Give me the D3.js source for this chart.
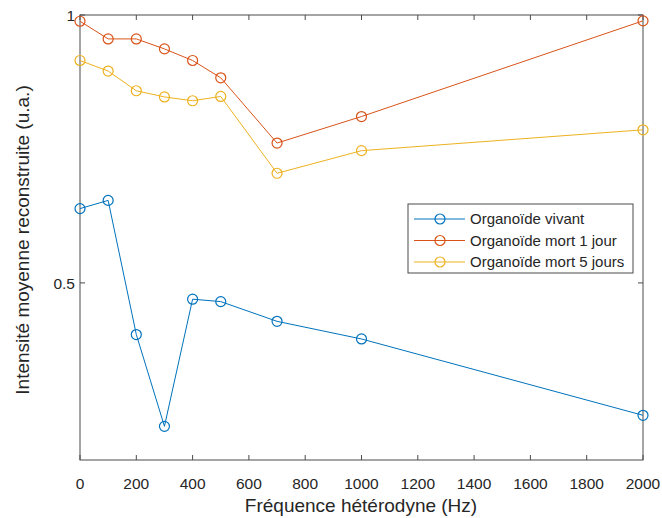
<!DOCTYPE html>
<html><head><meta charset="utf-8">
<script src="https://cdn.jsdelivr.net/npm/d3@7"></script>
<style>body{margin:0;background:#fff}svg{display:block}text{font-family:"Liberation Sans",Arial,Helvetica,sans-serif;fill:#262626}</style>
</head><body><svg id="c" width="662" height="518"></svg>
<script>
const freqs = [0, 100, 200, 300, 400, 500, 700, 1000, 2000];
const vivant = [0.606, 0.619, 0.4375, 0.345, 0.4794, 0.4764, 0.4527, 0.4325, 0.355];
const mort1 = [0.984, 0.940, 0.940, 0.916, 0.889, 0.850, 0.718, 0.769, 0.985];
const mort5 = [0.889, 0.865, 0.822, 0.809, 0.801, 0.810, 0.664, 0.704, 0.743];
const seriesNames = ["Organoïde vivant", "Organoïde mort 1 jour", "Organoïde mort 5 jours"];
const colors = ["#0072BD", "#D95319", "#EDB120"];
const xTicks = [0, 200, 400, 600, 800, 1000, 1200, 1400, 1600, 1800, 2000];
const yTicks = [0.5, 1];
const yTickLabels = ["0.5", "1"];
const xLabel = "Fréquence hétérodyne (Hz)";
const yLabel = "Intensité moyenne reconstruite (u.a.)";

const L = 80, T = 15, R = 643, B = 460;
const svg = d3.select("#c");
const x = d3.scaleLinear().domain([0, 2000]).range([L, R]);
const y = d3.scaleLog().domain([Math.pow(10, -0.5), 1]).range([B, T]);
const axisColor = "#4a4a4a";
const tl = 5;

const g = svg.append("g");
g.append("rect").attr("x", L).attr("y", T).attr("width", R - L).attr("height", B - T)
  .attr("fill", "none").attr("stroke", axisColor).attr("stroke-width", 1);

xTicks.forEach(v => {
  const px = x(v);
  g.append("line").attr("x1", px).attr("x2", px).attr("y1", B).attr("y2", B - tl).attr("stroke", axisColor);
  g.append("line").attr("x1", px).attr("x2", px).attr("y1", T).attr("y2", T + tl).attr("stroke", axisColor);
  g.append("text").attr("x", px).attr("y", B + 29).attr("text-anchor", "middle")
    .style("font-size", "15.5px").text(v);
});
yTicks.forEach((v, i) => {
  const py = y(v);
  g.append("line").attr("x1", L).attr("x2", L + tl).attr("y1", py).attr("y2", py).attr("stroke", axisColor);
  g.append("line").attr("x1", R).attr("x2", R - tl).attr("y1", py).attr("y2", py).attr("stroke", axisColor);
  g.append("text").attr("x", L - 5).attr("y", py + 6).attr("text-anchor", "end")
    .style("font-size", "15.5px").text(yTickLabels[i]);
});

g.append("text").attr("x", 361).attr("y", 512).attr("text-anchor", "middle")
  .style("font-size", "19px").text(xLabel);
g.append("text").attr("transform", `translate(29,240) rotate(-90)`).attr("text-anchor", "middle")
  .style("font-size", "19px").text(yLabel);

const data = [vivant, mort1, mort5];
const line = d3.line().x((d, i) => x(freqs[i])).y(d => y(d));
data.forEach((s, k) => {
  g.append("path").datum(s).attr("d", line).attr("fill", "none")
    .attr("stroke", colors[k]).attr("stroke-width", 1);
  g.selectAll(null).data(s).enter().append("circle")
    .attr("cx", (d, i) => x(freqs[i])).attr("cy", d => y(d)).attr("r", 5)
    .attr("fill", "none").attr("stroke", colors[k]).attr("stroke-width", 1.2);
});

const lg = svg.append("g");
lg.append("rect").attr("x", 408).attr("y", 204).attr("width", 225).attr("height", 69)
  .attr("fill", "#fff").attr("stroke", axisColor).attr("stroke-width", 1);
seriesNames.forEach((n, k) => {
  const ly = 219 + k * 21.5;
  lg.append("line").attr("x1", 414).attr("x2", 465).attr("y1", ly).attr("y2", ly)
    .attr("stroke", colors[k]).attr("stroke-width", 1);
  lg.append("circle").attr("cx", 440).attr("cy", ly).attr("r", 5)
    .attr("fill", "none").attr("stroke", colors[k]).attr("stroke-width", 1.2);
  lg.append("text").attr("x", 470).attr("y", ly + 5).style("font-size", "15px").text(n);
});
</script></body></html>
